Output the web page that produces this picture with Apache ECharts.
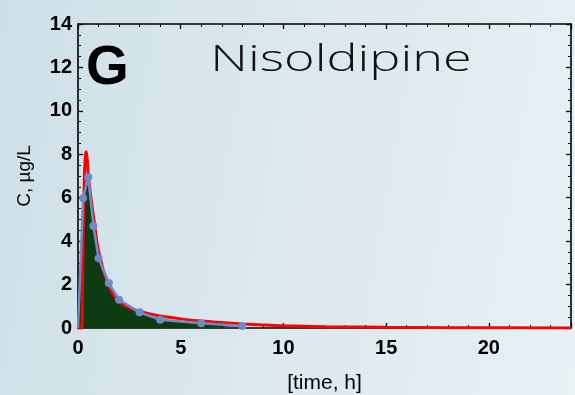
<!DOCTYPE html>
<html>
<head>
<meta charset="utf-8">
<script src="https://cdn.jsdelivr.net/npm/echarts@6/dist/echarts.min.js"></script>
<style>
  html, body { margin: 0; padding: 0; }
  body {
    width: 575px; height: 395px; overflow: hidden;
    background: linear-gradient(100deg, #cde0e8 0%, #dae7ed 45%, #e8f1f4 100%);
  }
  #chart { width: 575px; height: 395px; }
</style>
</head>
<body>
<div id="chart"></div>
<script>
// Observed plasma concentrations (time in h, concentration in µg/L)
var obsTime = [0, 0.25, 0.5, 0.75, 1, 1.5, 2, 3, 4, 6, 8];
var obsConc = [0, 5.98, 6.94, 4.70, 3.21, 2.07, 1.30, 0.72, 0.38, 0.22, 0.09];

// Fitted model curve
var fitTime = [0, 0.18, 0.22, 0.27, 0.32, 0.36, 0.40, 0.45, 0.50, 0.60, 0.70, 0.80, 0.90, 1.0,
               1.25, 1.5, 1.75, 2.0, 2.5, 3.0, 3.5, 4.0, 5.0, 6.0, 7.0, 8.0, 9.0, 10.0,
               12.0, 15.0, 18.0, 24.0];
var fitConc = [0, 0, 2.2, 5.2, 7.2, 7.95, 8.12, 7.75, 7.05, 6.2, 5.5, 4.8, 4.1, 3.55,
               2.6, 1.95, 1.5, 1.2, 0.93, 0.77, 0.65, 0.55, 0.42, 0.32, 0.25, 0.19, 0.14, 0.10,
               0.06, 0.03, 0.015, 0.005];

var xTicks = [0, 5, 10, 15, 20];
var yTicks = [0, 2, 4, 6, 8, 10, 12, 14];

function pairs(xs, ys) { return xs.map(function (x, i) { return [x, ys[i]]; }); }

var tickFont = { fontFamily: 'Liberation Sans', fontWeight: 'bold', fontSize: 20, color: '#000' };

var chart = echarts.init(document.getElementById('chart'), null, { renderer: 'canvas' });

var axisCommon = {
  type: 'value',
  axisLine: { show: true, onZero: false, lineStyle: { color: '#000', width: 1.6 } },
  axisTick: { show: true, inside: true, length: 5, lineStyle: { color: '#000', width: 1.3 } },
  minorTick: { show: true, length: 3, lineStyle: { color: '#000', width: 1 } },
  splitLine: { show: false }
};

// observed points: no marker at the origin
var obsData = pairs(obsTime, obsConc).map(function (p) {
  return p[0] === 0 ? { value: p, symbol: 'none' } : { value: p };
});

chart.setOption({
  animation: false,
  backgroundColor: 'transparent',
  grid: { left: 78, right: 4, top: 24, bottom: 67, containLabel: false, outerBoundsMode: 'none' },
  graphic: [
    { type: 'text', x: 86, y: 41, z: 10,
      style: { text: 'G', font: 'bold 55px "Liberation Sans"', fill: '#000' } },
    { type: 'text', x: 341, y: 61, scaleX: 1.45, z: 10,
      style: { text: 'Nisoldipine', font: '300 36px "Open Sans"', fill: '#111',
               textAlign: 'center', textVerticalAlign: 'middle' } }
  ],
  xAxis: [
    Object.assign({}, axisCommon, {
      position: 'bottom', min: 0, max: 24, interval: 5,
      minorTick: Object.assign({}, axisCommon.minorTick, { splitNumber: 5 }),
      axisLabel: Object.assign({ margin: 10, showMaxLabel: false,
        formatter: function (v) { return xTicks.indexOf(v) >= 0 ? String(v) : ''; } }, tickFont),
      name: '[time, h]', nameLocation: 'middle', nameGap: 45,
      nameTextStyle: { fontFamily: 'Liberation Sans', fontSize: 21, color: '#000' }
    }),
    Object.assign({}, axisCommon, {
      position: 'top', min: 0, max: 24, interval: 5,
      minorTick: Object.assign({}, axisCommon.minorTick, { splitNumber: 5 }),
      axisLabel: { show: false }
    })
  ],
  yAxis: [
    Object.assign({}, axisCommon, {
      position: 'left', min: 0, max: 14, interval: 2,
      minorTick: Object.assign({}, axisCommon.minorTick, { splitNumber: 4 }),
      axisLabel: Object.assign({ margin: 6,
        formatter: function (v) { return yTicks.indexOf(v) >= 0 ? String(v) : ''; } }, tickFont),
      name: 'C, µg/L', nameLocation: 'middle', nameGap: 44,
      nameTextStyle: { fontFamily: 'Liberation Sans', fontSize: 19, color: '#000' }
    }),
    Object.assign({}, axisCommon, {
      position: 'right', min: 0, max: 14, interval: 2,
      minorTick: Object.assign({}, axisCommon.minorTick, { splitNumber: 4 }),
      axisLabel: { show: false }
    })
  ],
  series: [
    {
      name: 'area', type: 'line', data: pairs(obsTime, obsConc),
      xAxisIndex: 0, yAxisIndex: 0, symbol: 'none', z: 1,
      lineStyle: { width: 0 },
      areaStyle: { color: '#0d3b12', opacity: 1 }
    },
    {
      name: 'fit', type: 'line', data: pairs(fitTime, fitConc), smooth: 0.3,
      xAxisIndex: 0, yAxisIndex: 0, symbol: 'none', z: 2,
      lineStyle: { color: '#ff0000', width: 3 }
    },
    {
      name: 'observed', type: 'line', data: obsData,
      xAxisIndex: 0, yAxisIndex: 0, symbol: 'circle', symbolSize: 8, z: 3,
      showSymbol: true,
      lineStyle: { color: '#6b8cc6', width: 2.5 },
      itemStyle: { color: '#6b8cc6' }
    }
  ]
});
</script>
</body>
</html>
